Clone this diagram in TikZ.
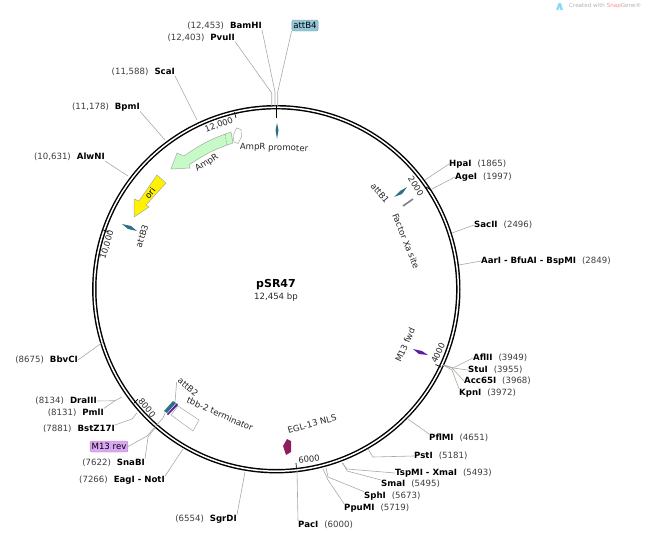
\documentclass[tikz,border=0pt]{standalone}
\usepackage{fontspec}
\setmainfont{DejaVu Sans}
\usepackage{xcolor}
\usetikzlibrary{positioning}
\definecolor{leadgray}{HTML}{A9A9A1}
\definecolor{numgray}{HTML}{3C3C3C}
\definecolor{tealfeat}{HTML}{2F6F85}
\definecolor{violetfeat}{HTML}{5A1E9E}
\definecolor{maroonfeat}{HTML}{8C1F5E}
\definecolor{ampgreen}{HTML}{C6FBC8}
\definecolor{attfill}{HTML}{92C7D8}
\definecolor{m13fill}{HTML}{D9A8F0}
\tikzset{
    site/.style={font=\fontsize{8.6}{10}\selectfont, text=black, inner sep=0pt},
    lead/.style={draw=leadgray, line width=0.6pt},
    featlabel/.style={font=\fontsize{8.6}{10}\selectfont, text=black!85, inner sep=0pt},
    ticklabel/.style={font=\fontsize{8.4}{10}\selectfont, text=black!85, inner sep=0pt},
    tickmark/.style={draw=black, line width=0.7pt},
    tag/.style={font=\fontsize{8.6}{10}\selectfont, rounded corners=2pt, inner xsep=1.5pt, inner ysep=1.5pt, minimum height=11pt},
    feat/.style={draw=leadgray, line width=0.5pt}
}
\newcommand{\cut}[2]{\textcolor{numgray}{#1}\hspace{6pt}\textbf{#2}}
\newcommand{\tuc}[2]{\textbf{#1}\hspace{6pt}\textcolor{numgray}{#2}}
\begin{document}
\begin{tikzpicture}[x=1pt,y=-1pt]
    \useasboundingbox (0,0) rectangle (649,536);
    % ring
    \coordinate (hub) at (276.3,289.2);
    \draw [black, line width=4.4pt] (hub) circle (182);
    \draw [white, line width=1.5pt] (hub) circle (182);
    \node (name) [font=\fontsize{11}{13}\selectfont\bfseries] at (276,285) {pSR47};
    \node (size) [featlabel] at (276,297) {12,454 bp};

    % ticks
    \draw [tickmark] (234.5,112) -- (236,118);
    \draw [tickmark] (431,190) -- (426,187);
    \draw [tickmark] (441,367) -- (435.5,364.5);
    \draw [tickmark] (296.5,469) -- (296,463);
    \draw [tickmark] (134,403) -- (138,399);
    \draw [tickmark] (103,230) -- (109,232);
    \node (t12) [ticklabel, rotate=21] at (219,125) {12,000};
    \node (t2) [ticklabel, rotate=-58] at (416,186) {2000};
    \node (t4) [ticklabel, rotate=65] at (438,353) {4000};
    \node (t6) [ticklabel, rotate=7] at (309,459) {6000};
    \node (t8) [ticklabel, rotate=-50] at (147,408) {8000};
    \node (t10) [ticklabel, rotate=73] at (107,245) {10,000};

    % features
    \draw [feat, fill=ampgreen] (231,132) to[bend right=8] (184,156) -- (177,153) -- (171,169) -- (190,168) -- (189,165) to[bend left=8] (233,143) -- cycle;
    \draw [feat, densely dotted, black!60] (225,134) -- (227,145);
    \draw [feat, fill=white] (233,136) -- (236.5,128) -- (241,129.5) -- (241.5,137) -- (238,143.5) -- (234,142) -- cycle;
    \draw [feat, fill=yellow] (157,175) -- (166,183) -- (146,205) -- (149,207) -- (134,217) -- (134,199) -- (139,201) -- cycle;
    \fill [tealfeat] (122,224) -- (131,226) -- (137,231) -- (128,229) -- cycle;
    \fill [tealfeat] (277,123) -- (278.5,130) -- (277,139) -- (275.5,130) -- cycle;
    \fill [tealfeat] (394,197) -- (400,191) -- (407,187) -- (402,194) -- cycle;
    \draw [gray, line width=1.6pt] (403,206) -- (413,199);
    \fill [violetfeat] (413,349) -- (422,351) -- (428,355) -- (419,354) -- cycle;
    \fill [violetfeat] (167,414) -- (177,403) -- (178,405) -- (168,415) -- cycle;
    \fill [tealfeat] (164,411) -- (173,401) -- (176,403) -- (167,413) -- cycle;
    \draw [feat, fill=white] (178,406) -- (199,420) -- (193,431) -- (171,415) -- cycle;
    \fill [maroonfeat] (283,446) -- (287,439) -- (291,441) -- (291,452) -- (286,455) -- cycle;
    \node (ampr) [featlabel, rotate=33] at (207,163) {AmpR};
    \node (prom) [featlabel, rotate=-2] at (274,148) {AmpR promoter};
    \node (orilab) [featlabel, rotate=52, text=black] at (150,193) {ori};
    \node (attb3) [featlabel, rotate=72] at (142,236) {attB3};
    \node (attb1) [featlabel, rotate=-50] at (380,193) {attB1};
    \node (xa) [featlabel, rotate=-68] at (406,241) {Factor Xa site};
    \node (m13f) [featlabel, rotate=66] at (405,345) {M13 fwd};
    \node (attb2) [featlabel, rotate=-40] at (188,387) {attB2};
    \node (tbb) [featlabel, rotate=-24] at (220,414) {tbb-2 terminator};
    \node (egl) [featlabel, rotate=15] at (312,424) {EGL-13 NLS};

    % tags
    \node (attb4) [tag, draw=attfill!80!black, fill=attfill] at (305,25.5) {attB4};
    \node (m13r) [tag, draw=m13fill!70!violet, fill=m13fill] at (109,446.5) {M13 rev};

    % sites, left side
    \node (bamhi) [site, anchor=east] at (262,26) {\cut{(12,453)}{BamHI}};
    \node (pvuii) [site, anchor=east] at (235,37.5) {\cut{(12,403)}{PvuII}};
    \node (scai) [site, anchor=east] at (175,72) {\cut{(11,588)}{ScaI}};
    \node (bpmi) [site, anchor=east] at (140,107) {\cut{(11,178)}{BpmI}};
    \node (alwni) [site, anchor=east] at (105,157) {\cut{(10,631)}{AlwNI}};
    \node (bbvci) [site, anchor=east] at (78,360) {\cut{(8675)}{BbvCI}};
    \node (draiii) [site, anchor=east] at (97,401) {\cut{(8134)}{DraIII}};
    \node (pmli) [site, anchor=east] at (104,412.5) {\cut{(8131)}{PmlI}};
    \node (bstz) [site, anchor=east] at (115,429) {\cut{(7881)}{BstZ17I}};
    \node (snabi) [site, anchor=east] at (145,463) {\cut{(7622)}{SnaBI}};
    \node (eagi) [site, anchor=east] at (165,480.5) {\cut{(7266)}{EagI\ -\ NotI}};
    \node (sgrdi) [site, anchor=east] at (237,519) {\cut{(6554)}{SgrDI}};

    % sites, right side
    \node (paci) [site, anchor=west] at (298,525) {\tuc{PacI}{(6000)}};
    \node (ppumi) [site, anchor=west] at (344,508) {\tuc{PpuMI}{(5719)}};
    \node (sphi) [site, anchor=west] at (364,496) {\tuc{SphI}{(5673)}};
    \node (smai) [site, anchor=west] at (381,484) {\tuc{SmaI}{(5495)}};
    \node (tspmi) [site, anchor=west] at (395,473) {\tuc{TspMI\ -\ XmaI}{(5493)}};
    \node (psti) [site, anchor=west] at (414,456) {\tuc{PstI}{(5181)}};
    \node (pflmi) [site, anchor=west] at (429,438) {\tuc{PflMI}{(4651)}};
    \node (kpni) [site, anchor=west] at (459,393) {\tuc{KpnI}{(3972)}};
    \node (acc) [site, anchor=west] at (464,381) {\tuc{Acc65I}{(3968)}};
    \node (stui) [site, anchor=west] at (468,370) {\tuc{StuI}{(3955)}};
    \node (aflii) [site, anchor=west] at (473,358) {\tuc{AflII}{(3949)}};
    \node (aari) [site, anchor=west] at (481,261) {\tuc{AarI\ -\ BfuAI\ -\ BspMI}{(2849)}};
    \node (sacii) [site, anchor=west] at (474,225) {\tuc{SacII}{(2496)}};
    \node (agei) [site, anchor=west] at (455,177) {\tuc{AgeI}{(1997)}};
    \node (hpai) [site, anchor=west] at (449,164) {\tuc{HpaI}{(1865)}};

    % leaders
    \coordinate (top) at (276,107);
    \draw [lead] (bamhi.south east) -- (275,92) -- (275,106);
    \draw [lead] (attb4.south west) -- (277.7,92) -- (277.7,106);
    \draw [lead] (pvuii.south east) -- (271.7,93) -- (271.7,106);
    \draw [black, line width=1pt] (276.5,106) -- (276.5,118);
    \draw [lead] (scai.south east) -- (197,120);
    \draw [lead] (bpmi.south east) -- (165,140);
    \draw [lead] (alwni.south east) -- (128,176);
    \draw [lead] (bbvci.east) -- (96,347) -- (103,342);
    \draw [lead] (draiii.east) -- (115,400.7) -- (122,397);
    \draw [lead] (pmli.north east) -- (115,400.7);
    \draw [lead] (bstz.north east) -- (132,419) -- (137,413);
    \draw [lead] (m13r.east) -- (147,436) -- (163,418) -- (165,413);
    \draw [lead] (snabi.north east) -- (148,437) -- (155,428);
    \draw [lead] (eagi.north east) -- (183,449);
    \draw [lead] (sgrdi.north east) -- (245,472);
    \draw [lead] (paci.north west) -- (297,469);
    \draw [lead] (ppumi.north west) -- (328,480) -- (323,469);
    \draw [lead] (sphi.north west) -- (328,477) -- (326,468);
    \draw [lead] (smai.north west) -- (347,471) -- (343,463);
    \draw [lead] (tspmi.west) -- (347,469) -- (342,463);
    \draw [lead] (psti.west) -- (373,457) -- (368,449);
    \draw [lead] (pflmi.north west) -- (408,419);
    \draw [lead] (kpni.north west) -- (452,370) -- (443,365);
    \draw [lead] (acc.west) -- (452,368) -- (443,365);
    \draw [lead] (stui.west) -- (453,368) -- (443,365);
    \draw [lead] (aflii.west) -- (453,368) -- (444,365);
    \draw [lead] (aari.west) -- (459,265);
    \draw [lead] (sacii.west) -- (452,233);
    \draw [lead] (agei.west) -- (432,189);
    \draw [lead] (hpai.west) -- (425,180);
    \draw [lead] (attb2.south west) -- (175,402);

    % watermark
    \fill [cyan!45] (556,10) -- (558.5,3) -- (561,3) -- (563,10) -- (560.5,10) -- (559.5,6.5) -- (558.5,10) -- cycle;
    \node (mark) [inner sep=0pt, anchor=west, font=\fontsize{5.6}{7}\selectfont, text=black!30] at (569,6) {Created with \textcolor{red!45}{Snap}Gene®};
\end{tikzpicture}
\end{document}
